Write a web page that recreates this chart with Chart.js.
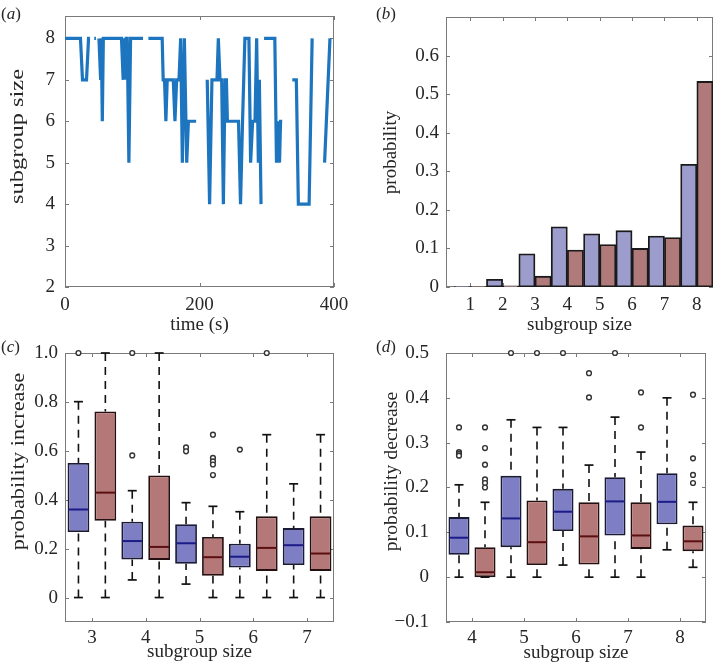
<!DOCTYPE html>
<html>
<head>
<meta charset="utf-8">
<script src="https://cdn.jsdelivr.net/npm/chart.js@4.4.1/dist/chart.umd.min.js"></script>
<style>
  body { margin: 0; background: #fff; width: 718px; height: 666px; position: relative; overflow: hidden; }
  canvas { position: absolute; }
  .tag { position: absolute; font: 17px 'Liberation Serif', serif; line-height: 17px; color: #262626; }
  .ylab { position: absolute; font: 19px 'Liberation Serif', serif; line-height: 19px; color: #262626; white-space: nowrap; }
</style>
</head>
<body>
<canvas id="chart-a" width="359" height="340" style="left:0;top:0"></canvas>
<canvas id="chart-b" width="359" height="340" style="left:359px;top:0"></canvas>
<canvas id="chart-c" width="359" height="333" style="left:0;top:333px"></canvas>
<canvas id="chart-d" width="359" height="333" style="left:359px;top:333px"></canvas>
<div class="tag" style="left:1px;top:5px">(<i>a</i>)</div>
<div class="tag" style="left:376px;top:5px">(<i>b</i>)</div>
<div class="tag" style="left:1px;top:338px">(<i>c</i>)</div>
<div class="tag" style="left:376px;top:338px">(<i>d</i>)</div>
<script>
'use strict';

// (a) subgroup size over time, null = no record
const timeSec = [0, 23, 26, 32, 35, 37, 40, 43.5, 46, 48, 50.5, 53, 54, 55.5, 57, 84, 86.5, 88, 89.5, 91, 92.5, 95, 97.5, 116, 120,
  124, 144.5, 146, 148, 150, 152, 161, 163.5, 166, 169.5, 172, 174.5, 177.5, 181, 183.5, 195, 203,
  211.5, 215, 218.5, 226, 228, 230.5, 233, 235.5, 238, 240, 241.5, 258, 261, 264, 267.5, 273.5, 276, 279, 282.5, 285, 287.5, 289, 291.5, 294,
  296, 312, 314.5, 316, 319, 320.5, 323, 330, 338, 344, 347, 363, 367.5, 376, 386, 394];
const subgroupSize = [8, 8, 7, 7, 8, 8, null, 8, 8, null, 8, 7, 8, 6, 8, 8, 7, 8, 7, 8, 8, 5, 8, 8, null,
  8, 8, 7, 7, 6, 7, 7, 6, 7, 7, 8, 5, 8, 5, 6, 6, null,
  7, 4, 7, 7, 8, 7, 7, 4, 7, 7, 6, 6, 4, 6, 8, 8, 5, 6, 6, 8, 5, 7, 4, null,
  8, 8, 5, 6, 5, 6, 6, null, 7, 7, 4, 4, 8, null, 5, 8];
const timeTicks = [0, 200, 400];
const sizeTicksA = [2, 3, 4, 5, 6, 7, 8];

// (b) probability of each subgroup size
const sizesB = [1, 2, 3, 4, 5, 6, 7, 8];
const probBlue = [0.001, 0.02, 0.086, 0.156, 0.138, 0.146, 0.132, 0.318];
const probRed = [0.001, 0.003, 0.028, 0.096, 0.11, 0.1, 0.128, 0.533];
const probTicks = [0, 0.1, 0.2, 0.3, 0.4, 0.5, 0.6];

// (c) probability increase: [lower whisker, q1, median, q3, upper whisker]
const sizesC = [3, 4, 5, 6, 7];
const incBlueStats = [
  [0, 0.268, 0.360, 0.550, 0.801],
  [0.072, 0.156, 0.231, 0.310, 0.437],
  [0.055, 0.138, 0.222, 0.300, 0.388],
  [0, 0.123, 0.167, 0.220, 0.351],
  [0, 0.133, 0.214, 0.284, 0.465],
];
const incBlueOut = [[1.0], [0.581, 1.0], [0.614, 0.598], [0.605], []];
const incRedStats = [
  [0, 0.314, 0.429, 0.761, 1.0],
  [0, 0.154, 0.207, 0.499, 1.0],
  [0, 0.089, 0.165, 0.248, 0.373],
  [0, 0.109, 0.203, 0.332, 0.666],
  [0, 0.109, 0.180, 0.332, 0.666],
];
const incRedOut = [[], [], [0.666, 0.571, 0.557, 0.544, 0.501], [1.0], []];
const incTicks = [0, 0.2, 0.4, 0.6, 0.8, 1.0];

// (d) probability decrease
const sizesD = [4, 5, 6, 7, 8];
const decBlueStats = [
  [0, 0.050, 0.088, 0.134, 0.206],
  [0, 0.067, 0.131, 0.226, 0.351],
  [0.027, 0.103, 0.146, 0.197, 0.334],
  [0, 0.093, 0.169, 0.223, 0.357],
  [0.061, 0.118, 0.168, 0.232, 0.400],
];
const decBlueOut = [[0.334, 0.279, 0.275, 0.271], [0.5], [0.5], [0.5], []];
const decRedStats = [
  [0, 0, 0.011, 0.067, 0.167],
  [0, 0.027, 0.078, 0.171, 0.334],
  [0, 0.028, 0.091, 0.167, 0.250],
  [0, 0.063, 0.093, 0.167, 0.279],
  [0.022, 0.058, 0.080, 0.115, 0.167],
];
const decRedOut = [[0.334, 0.288, 0.251, 0.218, 0.210, 0.200], [0.5], [0.455, 0.401], [0.412, 0.334], [0.407, 0.265, 0.228, 0.210]];
const decTicks = [-0.1, 0, 0.1, 0.2, 0.3, 0.4, 0.5];

// rotated y-axis titles: centre point and drawn length in the figure
const yTitles = [
  { text: 'subgroup size', cx: 16.7, cy: 136, len: 135 },
  { text: 'probability', cx: 389.5, cy: 152, len: 83 },
  { text: 'probability increase', cx: 16.7, cy: 461.5, len: 177 },
  { text: 'probability decrease', cx: 391, cy: 471, len: 160 },
];

const FONT = 'Liberation Serif';
const TEXT = '#262626';
const LINE_BLUE = '#1c75be';
const BAR_BLUE = '#9d9dcd';
const BAR_RED = '#b07a7b';
const BOX_BLUE = '#7e7ec5';
const BOX_RED = '#b47879';
const MED_BLUE = '#1c1c86';
const MED_RED = '#5a1010';

Chart.defaults.animation = false;
Chart.defaults.events = [];
Chart.defaults.plugins.legend.display = false;
Chart.defaults.plugins.tooltip.enabled = false;

// MATLAB style box with inward ticks on all four sides
const framePlugin = {
  id: 'frame',
  beforeDatasetsDraw(chart) {
    const { ctx, chartArea: a, scales: { x, y } } = chart;
    const len = 4;
    ctx.save();
    ctx.strokeStyle = '#7a7a7a';
    ctx.lineWidth = 1;
    ctx.strokeRect(a.left + 0.5, a.top + 0.5, a.width - 1, a.height - 1);
    ctx.beginPath();
    x.ticks.forEach(t => {
      const px = Math.round(x.getPixelForValue(t.value)) + 0.5;
      ctx.moveTo(px, a.bottom); ctx.lineTo(px, a.bottom - len);
      ctx.moveTo(px, a.top); ctx.lineTo(px, a.top + len);
    });
    y.ticks.forEach(t => {
      const py = Math.round(y.getPixelForValue(t.value)) + 0.5;
      ctx.moveTo(a.left, py); ctx.lineTo(a.left + len, py);
      ctx.moveTo(a.right, py); ctx.lineTo(a.right - len, py);
    });
    ctx.stroke();
    ctx.restore();
  },
};

const fixTicks = (values) => (scale) => { scale.ticks = values.map(v => ({ value: v })); };

const xAxis = (min, max, ticks, title, height, tickPad, titlePad, fmt) => ({
  type: 'linear', min, max, offset: false,
  grid: { display: false, drawTicks: false },
  border: { display: false },
  afterBuildTicks: fixTicks(ticks),
  afterFit: (s) => { s.height = height; s.paddingLeft = 0; s.paddingRight = 0; },
  ticks: { padding: tickPad, color: TEXT, font: { family: FONT, size: 19 }, maxRotation: 0, callback: fmt },
  title: { display: true, text: title, color: TEXT, font: { family: FONT, size: 19 }, padding: { top: 0, bottom: titlePad } },
});

const yAxis = (min, max, ticks, width, tickPad, fmt) => ({
  type: 'linear', min, max,
  grid: { display: false, drawTicks: false },
  border: { display: false },
  afterBuildTicks: fixTicks(ticks),
  afterFit: (s) => { s.width = width; s.paddingTop = 0; s.paddingBottom = 0; },
  ticks: { padding: tickPad, color: TEXT, font: { family: FONT, size: 19 }, callback: fmt },
});

const fmtInt = (v) => String(v);
const fmtDec = (v) => v === 0 ? '0' : (v < 0 ? '\u2212' + Math.abs(v).toFixed(1) : v.toFixed(1));

// (a)
new Chart(document.getElementById('chart-a'), {
  type: 'line',
  data: {
    datasets: [{
      data: timeSec.map((t, i) => ({ x: t, y: subgroupSize[i] })),
      borderColor: LINE_BLUE,
      borderWidth: 3.2,
      pointRadius: 0,
      spanGaps: false,
      tension: 0,
    }],
  },
  options: {
    responsive: false,
    layout: { padding: { top: 16, right: 25, left: 0, bottom: 0 } },
    scales: {
      x: xAxis(0, 400, timeTicks, 'time (s)', 53, 7, 4, fmtInt),
      y: yAxis(2, 8.54, sizeTicksA, 65, 10, fmtInt),
    },
  },
  plugins: [framePlugin],
});

// (b)
const barSet = (probs, shift, color) => ({
  type: 'bar',
  data: sizesB.map((s, i) => ({ x: s + shift, y: probs[i] })),
  backgroundColor: color,
  borderColor: '#1a1a1a',
  borderWidth: 1.8,
  borderSkipped: false,
  grouped: false,
  barPercentage: 1,
  categoryPercentage: 1,
});

new Chart(document.getElementById('chart-b'), {
  type: 'bar',
  data: { datasets: [barSet(probBlue, -0.25, BAR_BLUE), barSet(probRed, 0.25, BAR_RED)] },
  options: {
    responsive: false,
    layout: { padding: { top: 17, right: 5, left: 0, bottom: 0 } },
    scales: {
      x: xAxis(0.25, 8.5, sizesB, 'subgroup size', 53, 7, 4, fmtInt),
      y: yAxis(0, 0.7, probTicks, 87, 7, fmtDec),
    },
  },
  plugins: [framePlugin],
});

// box plot datasets built from [lo, q1, med, q3, hi] rows
const boxSets = (sizes, stats, outs, shift, fill, edge, medColor) => {
  const xs = sizes.map(s => s + shift);
  const whiskers = [];
  const caps = [];
  const outliers = [];
  stats.forEach((s, i) => {
    whiskers.push({ x: xs[i], y: s[4] }, { x: xs[i], y: s[3] }, { x: xs[i], y: null });
    whiskers.push({ x: xs[i], y: s[0] }, { x: xs[i], y: s[1] }, { x: xs[i], y: null });
    caps.push({ x: xs[i], y: s[0] }, { x: xs[i], y: s[4] });
    outs[i].forEach(v => outliers.push({ x: xs[i], y: v }));
  });
  return [
    {
      type: 'bar',
      data: stats.map((s, i) => ({ x: xs[i], y: [s[1], s[3]] })),
      backgroundColor: fill,
      borderColor: edge,
      borderWidth: 1.8,
      borderSkipped: false,
      grouped: false,
      barPercentage: 0.81,
      categoryPercentage: 1,
      order: 2,
    },
    {
      type: 'line',
      data: whiskers,
      borderColor: '#111',
      borderWidth: 1.6,
      borderDash: [8, 6],
      pointRadius: 0,
      spanGaps: false,
      order: 3,
    },
    {
      type: 'scatter',
      data: caps,
      pointStyle: 'line',
      pointRadius: 4.5,
      borderColor: '#111',
      borderWidth: 1.7,
      clip: false,
      order: 1,
    },
    {
      type: 'scatter',
      data: stats.map((s, i) => ({ x: xs[i], y: s[2] })),
      pointStyle: 'line',
      pointRadius: 10,
      borderColor: medColor,
      borderWidth: 2,
      order: 1,
    },
    {
      type: 'scatter',
      data: outliers,
      pointStyle: 'circle',
      pointRadius: 2.4,
      borderColor: '#333',
      backgroundColor: '#fff',
      borderWidth: 1.4,
      clip: false,
      order: 0,
    },
  ];
};

new Chart(document.getElementById('chart-c'), {
  type: 'bar',
  data: {
    datasets: [
      ...boxSets(sizesC, incBlueStats, incBlueOut, -0.25, BOX_BLUE, '#1a1a33', MED_BLUE),
      ...boxSets(sizesC, incRedStats, incRedOut, 0.25, BOX_RED, '#241010', MED_RED),
    ],
  },
  options: {
    responsive: false,
    layout: { padding: { top: 20, right: 25, left: 0, bottom: 0 } },
    scales: {
      x: xAxis(2.5, 7.5, sizesC, 'subgroup size', 44, 5, 2.5, fmtInt),
      y: yAxis(-0.1, 1.0, incTicks, 65, 7, fmtDec),
    },
  },
  plugins: [framePlugin],
});

new Chart(document.getElementById('chart-d'), {
  type: 'bar',
  data: {
    datasets: [
      ...boxSets(sizesD, decBlueStats, decBlueOut, -0.25, BOX_BLUE, '#1a1a33', MED_BLUE),
      ...boxSets(sizesD, decRedStats, decRedOut, 0.25, BOX_RED, '#241010', MED_RED),
    ],
  },
  options: {
    responsive: false,
    layout: { padding: { top: 20, right: 5, left: 0, bottom: 0 } },
    scales: {
      x: xAxis(3.5, 8.5, sizesD, 'subgroup size', 44, 5, 2, fmtInt),
      y: yAxis(-0.1, 0.5, decTicks, 87, 17, fmtDec),
    },
  },
  plugins: [framePlugin],
});

// y titles: rotated text stretched to the drawn length of the reference
yTitles.forEach(t => {
  const el = document.createElement('div');
  el.className = 'ylab';
  el.textContent = t.text;
  document.body.appendChild(el);
  const w = el.offsetWidth;
  const h = el.offsetHeight;
  el.style.left = (t.cx - w / 2) + 'px';
  el.style.top = (t.cy - h / 2) + 'px';
  el.style.transform = `rotate(-90deg) scaleX(${(t.len / w).toFixed(3)})`;
});
</script>
</body>
</html>
